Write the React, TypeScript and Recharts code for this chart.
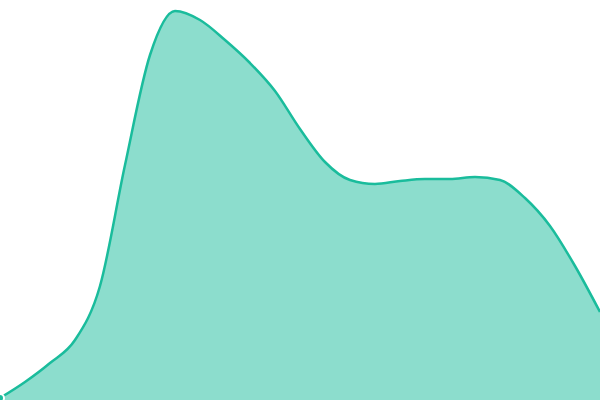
import React from 'react';
import { AreaChart, Area, XAxis, YAxis } from 'recharts';

const steps = [0, 1, 2, 3, 4, 5, 6, 7, 8, 9, 10, 11, 12, 13, 14, 15, 16, 17, 18, 19, 20, 21, 22, 23, 24];
const values = [2, 18, 37, 60, 114, 235, 345, 389, 380, 360, 337, 309, 271, 238, 220, 216, 219, 221, 221, 223, 220, 202, 174, 134, 88];

const data = steps.map((step, i) => ({ step, value: values[i] }));

export default function App() {
  return (
    <div>
      <style>{`body { margin: 0; }`}</style>
      <AreaChart width={600} height={400} data={data} margin={{ top: 0, right: 0, bottom: 0, left: 0 }}>
        <XAxis dataKey="step" type="number" domain={[0, 24]} hide />
        <YAxis domain={[0, 400]} hide />
        <Area
          type="monotone"
          dataKey="value"
          stroke="#1abc9c"
          strokeWidth={2.5}
          fill="#1abc9c"
          fillOpacity={0.5}
          isAnimationActive={false}
        />
      </AreaChart>
    </div>
  );
}
